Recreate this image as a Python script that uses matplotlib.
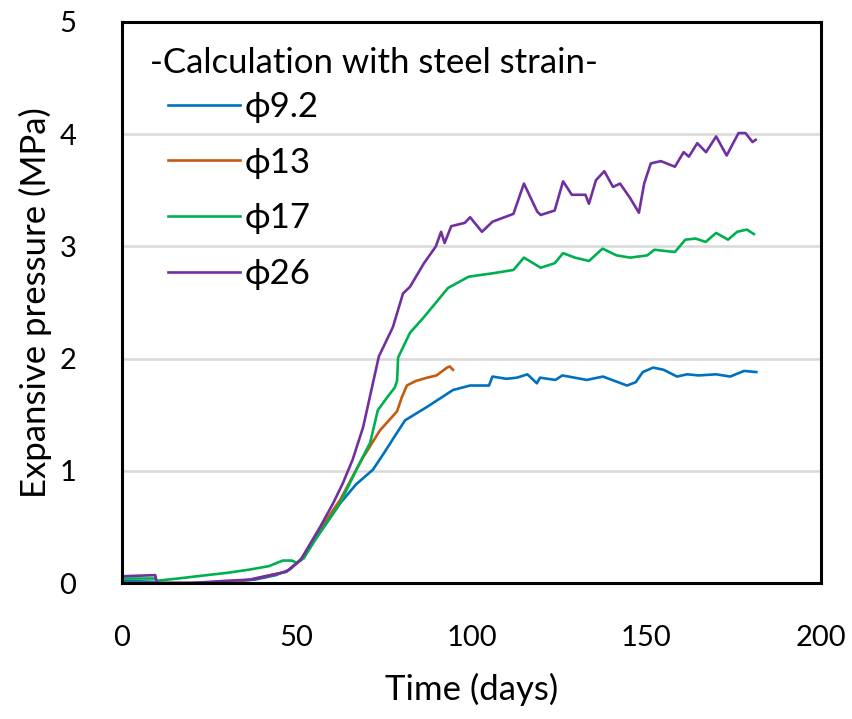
import numpy as np
import matplotlib
matplotlib.use("Agg")
import matplotlib.pyplot as plt

plt.rcParams['font.family'] = ['Lato', 'DejaVu Sans']

# ----- data (days, MPa) -----
d_92 = [0, 9.5, 10, 20, 30, 38, 44, 48, 51.5, 56, 62.4, 67, 71.8, 75, 78.7, 81, 87.3,
        94.7, 99.6, 105, 106, 110, 113, 116, 118.7, 119.6, 124, 126, 133, 137.6,
        144.5, 147, 149, 152, 155, 158.8, 161.7, 165, 170, 174, 178, 181.5]
p_92 = [0.02, 0.01, 0.0, 0.0, 0.01, 0.03, 0.07, 0.12, 0.22, 0.42, 0.71, 0.88, 1.01, 1.16,
        1.34, 1.45, 1.57, 1.72, 1.76, 1.76, 1.84, 1.82, 1.83, 1.86, 1.78, 1.83, 1.81,
        1.85, 1.81, 1.84, 1.76, 1.79, 1.88, 1.92, 1.90, 1.84, 1.86, 1.85, 1.86, 1.84,
        1.89, 1.88]

d_13 = [0, 9.5, 10, 20, 30, 36.6, 41, 47, 51.5, 56, 62.4, 66, 69, 73.8, 78.7, 80,
        81.5, 84, 87.3, 90, 93, 93.8, 94.7]
p_13 = [0.0, 0.0, 0.0, 0.0, 0.01, 0.03, 0.06, 0.1, 0.22, 0.45, 0.74, 0.95, 1.12, 1.36,
        1.53, 1.65, 1.76, 1.80, 1.83, 1.85, 1.92, 1.93, 1.90]

d_17 = [0, 9.5, 10, 16, 24.2, 30, 36.6, 42, 46, 48.6, 50, 52, 56, 62.4, 68, 71,
        73.2, 76, 78, 78.7, 79, 82.4, 86.4, 93.3, 99.2, 106, 112, 115, 119.8, 123.8,
        126.2, 129.6, 133.6, 137.5, 141.5, 145.4, 150.3, 152.3, 158.2, 161.2, 164.1,
        167, 170, 173.4, 176, 178.8, 180.8]
p_17 = [0.04, 0.04, 0.02, 0.04, 0.07, 0.09, 0.12, 0.15, 0.2, 0.2, 0.18, 0.22, 0.42,
        0.71, 1.07, 1.25, 1.54, 1.66, 1.74, 1.80, 2.01, 2.23, 2.37, 2.63, 2.73, 2.76,
        2.79, 2.90, 2.81, 2.85, 2.94, 2.90, 2.87, 2.98, 2.92, 2.90, 2.92, 2.97, 2.95,
        3.06, 3.07, 3.04, 3.12, 3.06, 3.13, 3.15, 3.11]

d_26 = [0, 9.5, 10, 20, 25, 30, 36.6, 41, 47, 51, 56.7, 60.4, 63.2, 66, 69, 73.5,
        77.5, 80.4, 82.4, 86.4, 89.8, 91.3, 92.3, 94.2, 98.1, 99.6, 103, 106, 112,
        115, 118.8, 119.8, 123.8, 126.2, 128.7, 132.6, 133.6, 135.6, 138, 140.5,
        142.5, 145.4, 147.9, 149.4, 151.3, 154.2, 158.2, 160.7, 162.2, 164.6, 167.1,
        170, 173, 176.4, 178.4, 180.4, 181.3]
p_26 = [0.06, 0.07, 0.0, 0.0, 0.01, 0.02, 0.03, 0.06, 0.1, 0.2, 0.5, 0.71, 0.89, 1.1,
        1.39, 2.02, 2.28, 2.58, 2.64, 2.85, 3.0, 3.13, 3.03, 3.18, 3.21, 3.26, 3.13,
        3.22, 3.29, 3.56, 3.31, 3.28, 3.32, 3.58, 3.46, 3.46, 3.38, 3.59, 3.67, 3.53,
        3.56, 3.43, 3.30, 3.56, 3.74, 3.76, 3.71, 3.84, 3.80, 3.92, 3.84, 3.98, 3.81,
        4.01, 4.01, 3.93, 3.95]

series = [
    (d_92, p_92, "\u03d59.2", "#0070C0"),
    (d_13, p_13, "\u03d513", "#C55A11"),
    (d_17, p_17, "\u03d517", "#00B050"),
    (d_26, p_26, "\u03d526", "#7030A0"),
]

fig = plt.figure(figsize=(8.53, 7.19), dpi=100)
ax = fig.add_axes([122/853, (719-583)/719, (821-122)/853, (583-22)/719])

for d, p, lab, c in series:
    ax.plot(d, p, color=c, lw=1.9, label=lab)

ax.set_xlim(0, 200)
ax.set_ylim(0, 5)
ax.set_xticks([0, 50, 100, 150, 200])
ax.set_yticks([0, 1, 2, 3, 4, 5])
ax.grid(axis='y', color='#d9d9d9', lw=1.8)
ax.set_axisbelow(True)
for s in ax.spines.values():
    s.set_linewidth(2.2)
ax.tick_params(length=0, labelsize=21)
ax.tick_params(axis='x', pad=30)
ax.tick_params(axis='y', pad=33)

ax.set_xlabel("Time (days)", fontsize=25, labelpad=16)
ax.set_ylabel("Expansive pressure (MPa)", fontsize=25, labelpad=5)

# legend title drawn as plain text, entries below it
ax.text(0.040, 0.927, "-Calculation with steel strain-", transform=ax.transAxes,
        fontsize=25, va='center', ha='left')
ax.legend(loc='upper left', bbox_to_anchor=(0.0658, 0.877), frameon=False,
          fontsize=25, borderpad=0, borderaxespad=0, handlelength=2.07,
          handletextpad=0.15, labelspacing=0.68)

fig.savefig("out.png", dpi=100)
